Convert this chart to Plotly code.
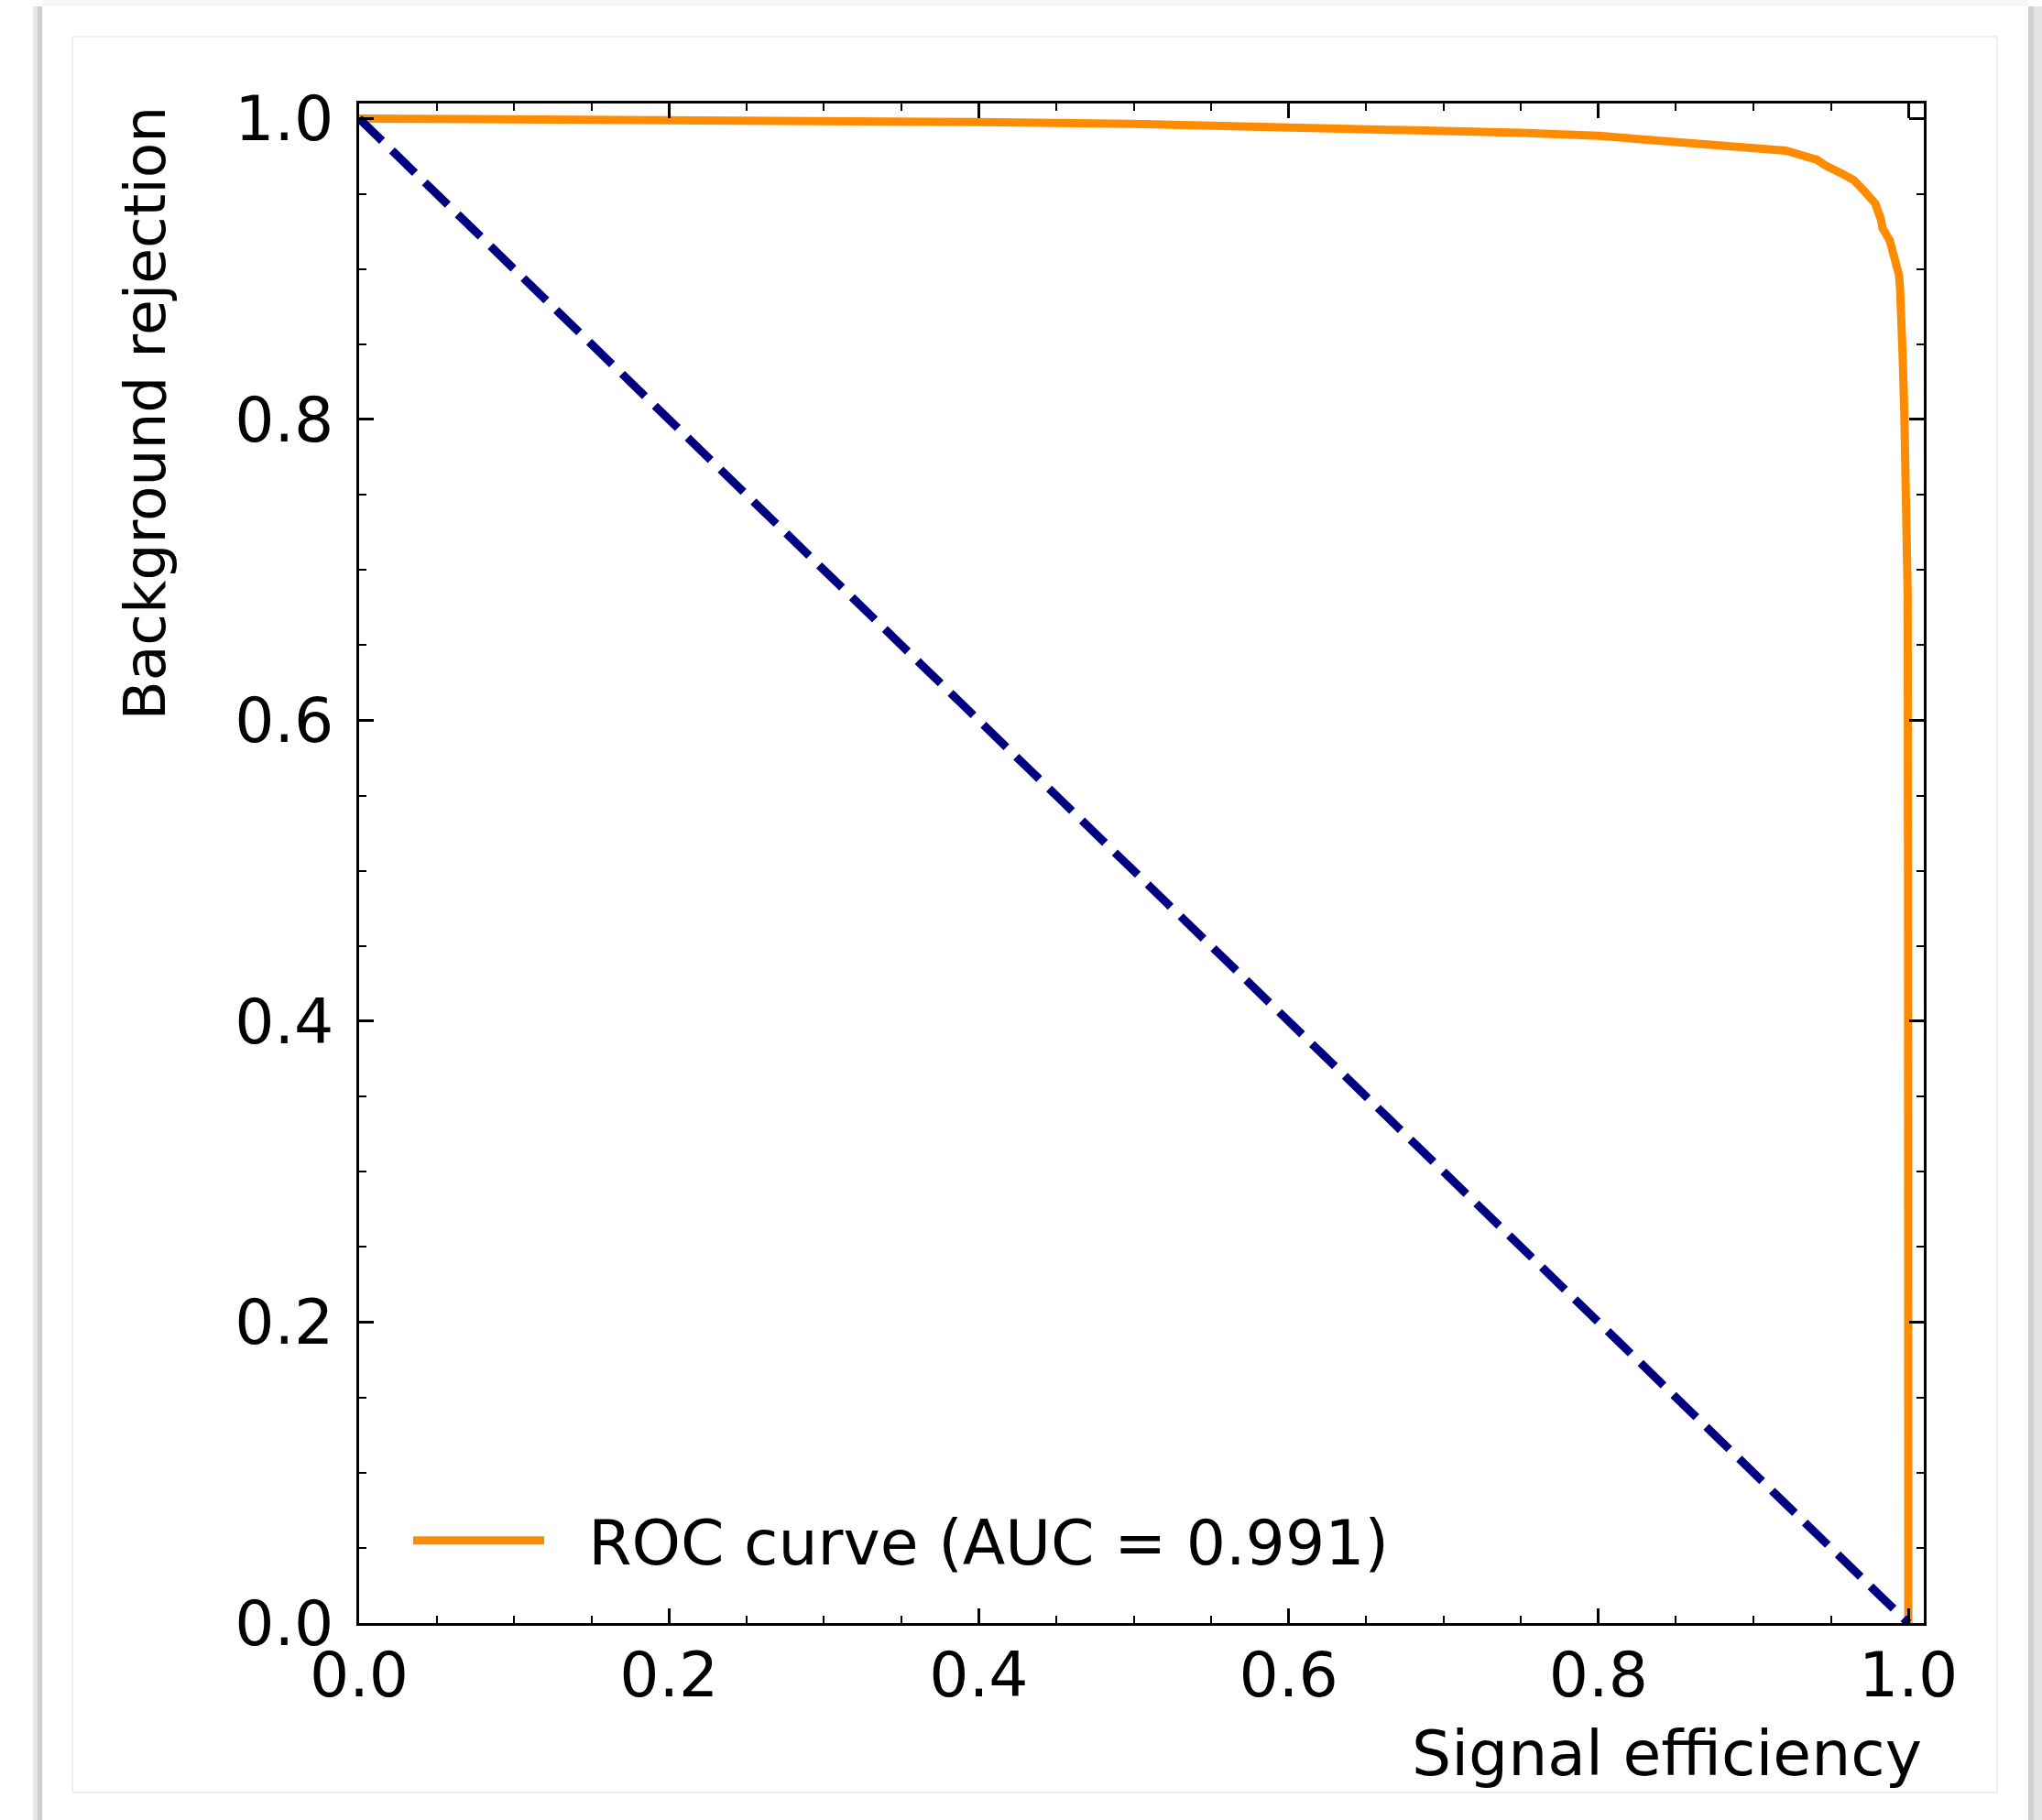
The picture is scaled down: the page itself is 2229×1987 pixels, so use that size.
import plotly.graph_objects as go

# ---- data ----
roc_x = [0.0, 0.05, 0.1, 0.2, 0.3, 0.4, 0.5, 0.6, 0.7, 0.75, 0.8, 0.85, 0.9,
         0.921, 0.941, 0.947, 0.957, 0.9646, 0.9705, 0.9787, 0.9823, 0.9834,
         0.988, 0.9919, 0.994, 0.9947, 0.996, 0.9962, 0.9974, 0.9982, 0.999,
         0.9996, 0.9998, 1.0, 1.0]
roc_y = [1.0, 0.9998, 0.9997, 0.9995, 0.9992, 0.9976, 0.9965, 0.9942, 0.9922,
         0.9905, 0.9885, 0.9845, 0.9803, 0.9787, 0.9726, 0.9685, 0.9635,
         0.9592, 0.9531, 0.9434, 0.933, 0.927, 0.919, 0.9066, 0.896, 0.8863,
         0.866, 0.8457, 0.8051, 0.7645, 0.724, 0.683, 0.5, 0.2, 0.0]
diag_x = [0.0, 1.0]
diag_y = [1.0, 0.0]
roc_name = "ROC curve (AUC = 0.991)"
x_title = "Signal efficiency"
y_title = "Background rejection"
tick_vals = [0.0, 0.2, 0.4, 0.6, 0.8, 1.0]
tick_text = ["0.0", "0.2", "0.4", "0.6", "0.8", "1.0"]

W, H = 2229, 1987
L, R, T, B = 392, 2100, 113, 1772
FONT = "DejaVu Sans"
FS = 68


def px(xp):
    return (xp - L) / (R - L)


def py(yp):
    return (B - yp) / (B - T)


fig = go.Figure()
fig.add_trace(go.Scatter(x=roc_x, y=roc_y, mode="lines",
                         name="\u00a0\u00a0" + roc_name,
                         line=dict(color="#ff8c00", width=9),
                         showlegend=True))
fig.add_trace(go.Scatter(x=diag_x, y=diag_y, mode="lines", showlegend=False,
                         line=dict(color="#000080", width=9, dash="35px,15px")))

axis_common = dict(
    range=[0.0, 1.01], tickvals=tick_vals, ticktext=tick_text,
    ticks="inside", ticklen=16, tickwidth=2.5, tickcolor="black",
    showline=True, linewidth=3, linecolor="black", mirror="allticks",
    showgrid=False, zeroline=False,
    tickfont=dict(family=FONT, size=FS, color="black"),
    minor=dict(dtick=0.05, tick0=0, ticks="inside", ticklen=8, tickwidth=2,
               tickcolor="black", showgrid=False),
)
fig.update_xaxes(**axis_common, ticklabelstandoff=-5)
fig.update_yaxes(**axis_common, ticklabelstandoff=11)

shapes = [
    # light top band
    dict(type="rect", xref="paper", yref="paper", x0=px(46), x1=px(2214),
         y0=py(0), y1=py(7), fillcolor="#f6f6f6", line=dict(width=0), layer="below"),
    # left shadow
    dict(type="rect", xref="paper", yref="paper", x0=px(36), x1=px(41),
         y0=py(7), y1=py(1987), fillcolor="#e6e6e6", line=dict(width=0), layer="below"),
    dict(type="rect", xref="paper", yref="paper", x0=px(41), x1=px(46),
         y0=py(7), y1=py(1987), fillcolor="#cdcdcd", line=dict(width=0), layer="below"),
    # right shadow
    dict(type="rect", xref="paper", yref="paper", x0=px(2214), x1=px(2220),
         y0=py(7), y1=py(1987), fillcolor="#d0d0d0", line=dict(width=0), layer="below"),
    dict(type="rect", xref="paper", yref="paper", x0=px(2220), x1=px(2229),
         y0=py(7), y1=py(1987), fillcolor="#e4e4e4", line=dict(width=0), layer="below"),
    # faint inner frame
    dict(type="rect", xref="paper", yref="paper", x0=px(79), x1=px(2180),
         y0=py(1957), y1=py(40), fillcolor="rgba(0,0,0,0)",
         line=dict(color="#ececec", width=1.5), layer="below"),
]

annotations = [
    dict(text=x_title, xref="paper", yref="paper", x=1.0, y=py(1915),
         xanchor="right", yanchor="middle", showarrow=False,
         font=dict(family=FONT, size=68, color="black")),
    dict(text=y_title, xref="paper", yref="paper", x=px(158), y=1.0,
         xanchor="center", yanchor="top", textangle=-90, showarrow=False,
         font=dict(family=FONT, size=63, color="black")),
]

fig.update_layout(
    width=W, height=H,
    margin=dict(l=L, r=W - R, t=T, b=H - B, autoexpand=False),
    paper_bgcolor="white", plot_bgcolor="white",
    shapes=shapes, annotations=annotations,
    showlegend=True,
    legend=dict(x=px(446), y=py(1682), xanchor="left", yanchor="middle",
                bgcolor="rgba(0,0,0,0)", borderwidth=0, itemwidth=143,
                font=dict(family=FONT, size=FS, color="black")),
)

fig.write_html("out.html")
